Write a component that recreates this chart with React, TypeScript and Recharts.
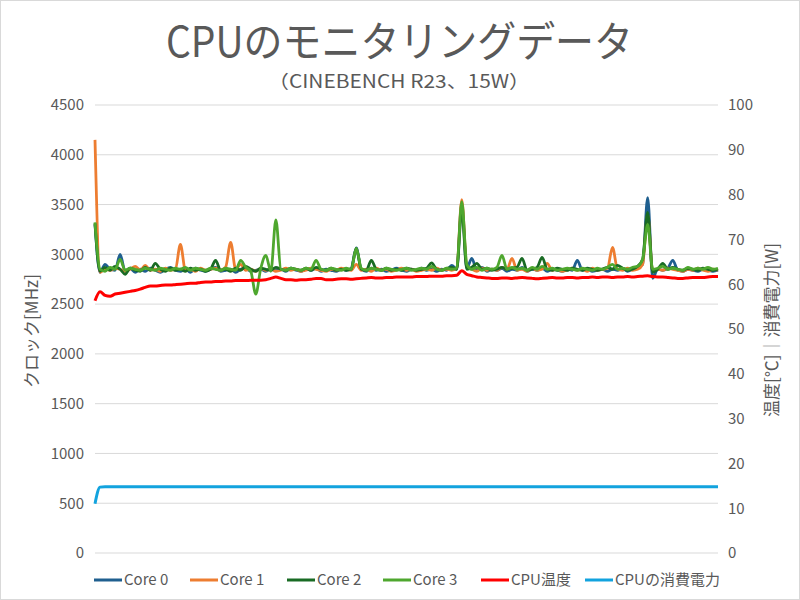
import React from "react";
import { LineChart, Line, XAxis, YAxis, CartesianGrid } from "recharts";

const core0 = [3300,2820,2900,2850,2840,3000,2830,2860,2820,2850,2830,2860,2840,2820,2850,2870,2840,2830,2850,2820,2860,2840,2830,2850,2870,2830,2840,2850,2820,2850,2860,2830,2840,2850,2830,2860,2840,2850,2830,2860,2840,2830,2850,2840,2860,2830,2850,2840,2830,2850,2840,2860,3065,2850,2830,2860,2840,2850,2830,2840,2860,2840,2830,2850,2840,2860,2840,2850,2830,2850,2840,2890,2850,3510,2860,2960,2840,2870,2830,2850,2840,2860,2830,2850,2840,2870,2830,2850,2840,2860,2830,2850,2840,2830,2850,2840,2940,2840,2850,2830,2840,2850,2830,2850,2840,2860,2830,2850,2870,2900,3570,2760,2850,2840,2860,2940,2840,2830,2850,2840,2830,2850,2840,2830,2840];
const core1 = [4150,2820,2850,2840,2860,2850,2830,2850,2880,2840,2890,2840,2850,2830,2860,2840,2850,3100,2840,2850,2830,2860,2840,2850,2860,2840,2870,3120,2850,2900,2840,2850,2830,2860,2840,2850,2830,2840,2860,2840,2850,2830,2840,2860,2850,2840,2830,2850,2840,2860,2850,2840,2900,2840,2850,2830,2860,2840,2850,2830,2840,2860,2840,2850,2830,2840,2850,2840,2860,2840,2850,2840,2860,3550,2880,2850,2830,2860,2840,2850,2840,2870,2850,2960,2840,2850,2830,2860,2840,2850,2910,2840,2850,2830,2840,2860,2840,2850,2830,2860,2840,2850,2860,3070,2850,2840,2860,2840,2850,2900,3400,2830,2850,2840,2860,2850,2840,2830,2850,2840,2860,2840,2830,2850,2840];
const core2 = [3310,2830,2870,2840,2880,2850,2800,2860,2840,2830,2870,2840,2910,2850,2830,2860,2840,2850,2830,2860,2840,2850,2830,2850,2940,2840,2850,2830,2860,2840,2880,2850,2830,2860,2850,2840,2870,2850,2840,2860,2850,2840,2860,2840,2870,2850,2840,2860,2840,2850,2840,2850,3060,2850,2840,2940,2850,2840,2860,2840,2850,2840,2860,2850,2840,2850,2860,2915,2850,2840,2860,2870,2850,3450,2850,2870,2910,2850,2860,2840,2850,2870,2850,2860,2870,2960,2840,2850,2870,2970,2850,2840,2860,2850,2840,2860,2850,2840,2860,2850,2840,2850,2870,2850,2890,2860,2840,2850,2880,2950,3420,2820,2850,2910,2850,2870,2850,2840,2860,2850,2840,2860,2850,2840,2850];
const core3 = [3320,2850,2830,2870,2850,2950,2840,2860,2850,2840,2860,2850,2840,2860,2850,2840,2860,2850,2870,2840,2860,2850,2840,2860,2850,2840,2860,2850,2840,2940,2870,2830,2600,2860,2990,2830,3345,2850,2840,2860,2850,2840,2860,2850,2940,2850,2840,2860,2850,2840,2860,2850,3060,2860,2840,2860,2850,2840,2860,2850,2840,2850,2860,2840,2850,2860,2850,2880,2850,2840,2860,2850,2860,3530,2900,2850,2870,2840,2860,2850,2870,2990,2850,2870,2850,2860,2840,2870,2850,2880,2850,2860,2840,2850,2860,2850,2840,2860,2850,2840,2860,2850,2870,2900,2850,2860,2850,2870,2880,2950,3300,2850,2860,2880,2850,2860,2850,2840,2870,2850,2860,2850,2870,2850,2860];
const cpuTemp = [56.3,58.3,57.5,57.3,57.8,58.0,58.2,58.4,58.6,58.9,59.3,59.6,59.6,59.7,59.8,59.8,59.9,60.0,60.1,60.2,60.2,60.4,60.5,60.5,60.6,60.6,60.7,60.7,60.8,60.8,60.8,60.9,60.9,60.9,61.0,61.3,61.6,61.3,61.0,61.0,60.9,61.0,61.0,61.1,61.3,61.3,61.0,61.0,61.1,61.2,61.2,61.1,61.2,61.3,61.4,61.5,61.4,61.4,61.5,61.5,61.6,61.6,61.6,61.6,61.7,61.7,61.7,61.8,61.8,61.8,61.9,61.9,62.0,63.0,62.2,61.9,61.6,61.5,61.4,61.3,61.3,61.4,61.4,61.3,61.4,61.5,61.4,61.3,61.2,61.3,61.4,61.5,61.4,61.4,61.5,61.5,61.4,61.5,61.5,61.6,61.5,61.6,61.6,61.5,61.6,61.6,61.7,61.6,61.7,61.8,61.9,61.7,61.6,61.6,61.5,61.4,61.3,61.3,61.4,61.5,61.5,61.5,61.6,61.7,61.7];
const cpuPower = [11.0,14.7,14.8,14.8,14.8,14.8,14.8,14.8,14.8,14.8,14.8,14.8,14.8,14.8,14.8,14.8,14.8,14.8,14.8,14.8,14.8,14.8,14.8,14.8,14.8,14.8,14.8,14.8,14.8,14.8,14.8,14.8,14.8,14.8,14.8,14.8,14.8,14.8,14.8,14.8,14.8,14.8,14.8,14.8,14.8,14.8,14.8,14.8,14.8,14.8,14.8,14.8,14.8,14.8,14.8,14.8,14.8,14.8,14.8,14.8,14.8,14.8,14.8,14.8,14.8,14.8,14.8,14.8,14.8,14.8,14.8,14.8,14.8,14.8,14.8,14.8,14.8,14.8,14.8,14.8,14.8,14.8,14.8,14.8,14.8,14.8,14.8,14.8,14.8,14.8,14.8,14.8,14.8,14.8,14.8,14.8,14.8,14.8,14.8,14.8,14.8,14.8,14.8,14.8,14.8,14.8,14.8,14.8,14.8,14.8,14.8,14.8,14.8,14.8,14.8,14.8,14.8,14.8,14.8,14.8,14.8,14.8,14.8,14.8,14.8];

const clockTicks = [0,500,1000,1500,2000,2500,3000,3500,4000,4500];
const rightTicks = [0,10,20,30,40,50,60,70,80,90,100];

const seriesNames = ["Core 0","Core 1","Core 2","Core 3","CPU温度","CPUの消費電力"];
const seriesColors = ["#1F5F8F","#ED7D31","#196B24","#4EA72E","#FF0000","#12A3DE"];

const data = core0.map((v, i) => ({
  idx: i,
  c0: v,
  c1: core1[i],
  c2: core2[i],
  c3: core3[i],
  temp: cpuTemp[i],
  power: cpuPower[i],
}));

const FONT = "'Noto Sans CJK JP', 'Noto Sans', sans-serif";
const TXT = "#595959";

const legendX = [94, 190, 287, 383, 481, 585];

export default function App() {
  return (
    <div style={{ position: "absolute", left: 0, top: 0, width: 800, height: 600, background: "#fff", fontFamily: FONT }}>
      <LineChart width={800} height={600} data={data} margin={{ top: 105, right: 0, bottom: 47, left: 0 }}>
        <CartesianGrid horizontal vertical={false} stroke="#D9D9D9" strokeWidth={1} yAxisId="left" />
        <XAxis dataKey="idx" type="number" domain={[0, 124]} hide />
        <YAxis
          yAxisId="left"
          orientation="left"
          width={95}
          domain={[0, 4500]}
          ticks={clockTicks}
          axisLine={false}
          tickLine={false}
          tickSize={0}
          tickMargin={11}
          interval={0}
          tick={{ fontSize: 15, fill: TXT, fontFamily: FONT }}
        />
        <YAxis
          yAxisId="right"
          orientation="right"
          width={82}
          domain={[0, 100]}
          ticks={rightTicks}
          axisLine={false}
          tickLine={false}
          tickSize={0}
          tickMargin={10}
          interval={0}
          tick={{ fontSize: 15, fill: TXT, fontFamily: FONT }}
        />
        <Line yAxisId="left" type="monotone" dataKey="c0" stroke={seriesColors[0]} strokeWidth={2.8} dot={false} isAnimationActive={false} />
        <Line yAxisId="left" type="monotone" dataKey="c1" stroke={seriesColors[1]} strokeWidth={2.8} dot={false} isAnimationActive={false} />
        <Line yAxisId="left" type="monotone" dataKey="c2" stroke={seriesColors[2]} strokeWidth={2.8} dot={false} isAnimationActive={false} />
        <Line yAxisId="left" type="monotone" dataKey="c3" stroke={seriesColors[3]} strokeWidth={2.8} dot={false} isAnimationActive={false} />
        <Line yAxisId="right" type="monotone" dataKey="temp" stroke={seriesColors[4]} strokeWidth={3} dot={false} isAnimationActive={false} />
        <Line yAxisId="right" type="monotone" dataKey="power" stroke={seriesColors[5]} strokeWidth={3} dot={false} isAnimationActive={false} />
      </LineChart>
      <svg width={800} height={600} style={{ position: "absolute", left: 0, top: 0, pointerEvents: "none" }}>
        <text x={166} y={57} fontSize={42} fill={TXT} fontFamily={FONT} textLength={467} lengthAdjust="spacingAndGlyphs">CPUのモニタリングデータ</text>
        <text x={268} y={88} fontSize={18} fill={TXT} fontFamily={FONT} textLength={262} lengthAdjust="spacingAndGlyphs">（CINEBENCH R23、15W）</text>
        <text x={0} y={0} transform="translate(38,331) rotate(-90)" textAnchor="middle" fontSize={17} fill={TXT} fontFamily={FONT}>クロック[MHz]</text>
        <text x={0} y={0} transform="translate(778,330) rotate(-90)" textAnchor="middle" fontSize={17} fill={TXT} fontFamily={FONT}>温度[℃]｜消費電力[W]</text>
        {seriesNames.map((n, i) => (
          <g key={n}>
            <line x1={legendX[i]} x2={legendX[i] + 28} y1={580} y2={580} stroke={seriesColors[i]} strokeWidth={3} />
            <text x={legendX[i] + 30} y={585} fontSize={15} fill={TXT} fontFamily={FONT}>{n}</text>
          </g>
        ))}
        <rect x={0.5} y={0.5} width={799} height={599} fill="none" stroke="#D9D9D9" strokeWidth={1} />
      </svg>
    </div>
  );
}
